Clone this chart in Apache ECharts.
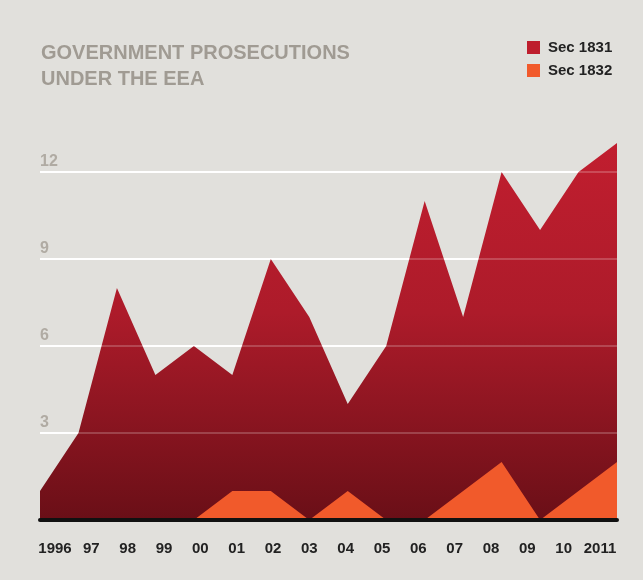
<!DOCTYPE html>
<html>
<head>
<meta charset="utf-8">
<script src="https://cdn.jsdelivr.net/npm/echarts@6/dist/echarts.min.js"></script>
<style>
  html, body { margin: 0; padding: 0; background: #e1e0dc; }
  #chart { width: 643px; height: 580px; }
</style>
</head>
<body>
<div id="chart"></div>
<script>
// Prosecutions per year under the Economic Espionage Act
const years = ['1996', '97', '98', '99', '00', '01', '02', '03', '04', '05', '06', '07', '08', '09', '10', '2011'];
const sec1831 = [1, 3, 8, 5, 6, 5, 9, 7, 4, 6, 11, 7, 12, 10, 12, 13];
const sec1832 = [0, 0, 0, 0, 0, 1, 1, 0, 1, 0, 0, 1, 2, 0, 1, 2];
const yTicks = { min: 0, max: 15, interval: 3 };

const chart = echarts.init(document.getElementById('chart'), null, { renderer: 'canvas' });

const labelFont = '"Liberation Sans", Arial, Helvetica, sans-serif';
const gridWhite = 'rgba(255,255,255,0.2)';
const clear = 'rgba(0,0,0,0)';

chart.setOption({
  backgroundColor: '#e1e0dc',
  animation: false,
  title: {
    text: 'GOVERNMENT PROSECUTIONS\nUNDER THE EEA',
    left: 36,
    top: 35,
    textStyle: {
      fontFamily: labelFont,
      fontWeight: 'bold',
      fontSize: 20,
      lineHeight: 26,
      color: '#a09b93'
    }
  },
  legend: {
    orient: 'vertical',
    left: 522,
    top: 35,
    itemWidth: 13,
    itemHeight: 13,
    itemGap: 8,
    icon: 'rect',
    textStyle: {
      fontFamily: labelFont,
      fontWeight: 'bold',
      fontSize: 15,
      color: '#222',
      padding: [0, 0, 0, 3]
    },
    data: ['Sec 1831', 'Sec 1832']
  },
  grid: [
    { left: 40, right: 26, top: 85, bottom: 60 },
    { left: 55, right: 43, top: 85, bottom: 60 }
  ],
  xAxis: [
    {
      type: 'category',
      gridIndex: 0,
      data: years,
      boundaryGap: false,
      z: 5,
      axisLine: { show: true, lineStyle: { color: '#111', width: 4 } },
      axisTick: { show: false },
      axisLabel: { show: false },
      splitLine: { show: false }
    },
    {
      type: 'category',
      gridIndex: 1,
      data: years,
      boundaryGap: false,
      axisLine: { show: false },
      axisTick: { show: false },
      axisLabel: {
        interval: 0,
        margin: 21,
        fontFamily: labelFont,
        fontWeight: 'bold',
        fontSize: 15,
        color: '#222'
      },
      splitLine: { show: false }
    }
  ],
  yAxis: [
    {
      type: 'value',
      gridIndex: 0,
      min: yTicks.min,
      max: yTicks.max,
      interval: yTicks.interval,
      axisLine: { show: false },
      axisTick: { show: false },
      axisLabel: {
        inside: true,
        showMinLabel: false,
        showMaxLabel: false,
        margin: 0,
        verticalAlign: 'bottom',
        padding: [0, 0, 2, 0],
        fontFamily: labelFont,
        fontWeight: 'bold',
        fontSize: 16,
        color: '#b0aba3'
      },
      splitLine: {
        show: true,
        lineStyle: {
          width: 2,
          color: [clear, '#ffffff', '#ffffff', '#ffffff', '#ffffff', clear]
        }
      }
    },
    {
      // faint copy of the grid lines, drawn over the filled areas
      type: 'value',
      gridIndex: 0,
      min: yTicks.min,
      max: yTicks.max,
      interval: yTicks.interval,
      z: 10,
      axisLine: { show: false },
      axisTick: { show: false },
      axisLabel: { show: false },
      splitLine: {
        show: true,
        lineStyle: {
          width: 2,
          color: [clear, gridWhite, gridWhite, gridWhite, gridWhite, clear]
        }
      }
    },
    {
      type: 'value',
      gridIndex: 1,
      show: false
    }
  ],
  series: [
    {
      name: 'Sec 1831',
      type: 'line',
      xAxisIndex: 0,
      yAxisIndex: 0,
      data: sec1831,
      symbol: 'none',
      itemStyle: { color: '#be1e2d' },
      lineStyle: { width: 0 },
      areaStyle: {
        opacity: 1,
        color: new echarts.graphic.LinearGradient(0, 0, 0, 1, [
          { offset: 0, color: '#c11e2f' },
          { offset: 0.45, color: '#ad1b2a' },
          { offset: 1, color: '#6a0f17' }
        ])
      },
      z: 2
    },
    {
      name: 'Sec 1832',
      type: 'line',
      xAxisIndex: 0,
      yAxisIndex: 0,
      data: sec1832,
      symbol: 'none',
      itemStyle: { color: '#f15a2b' },
      lineStyle: { width: 0 },
      areaStyle: { opacity: 1, color: '#f15a2b' },
      z: 3
    }
  ]
});
</script>
</body>
</html>
